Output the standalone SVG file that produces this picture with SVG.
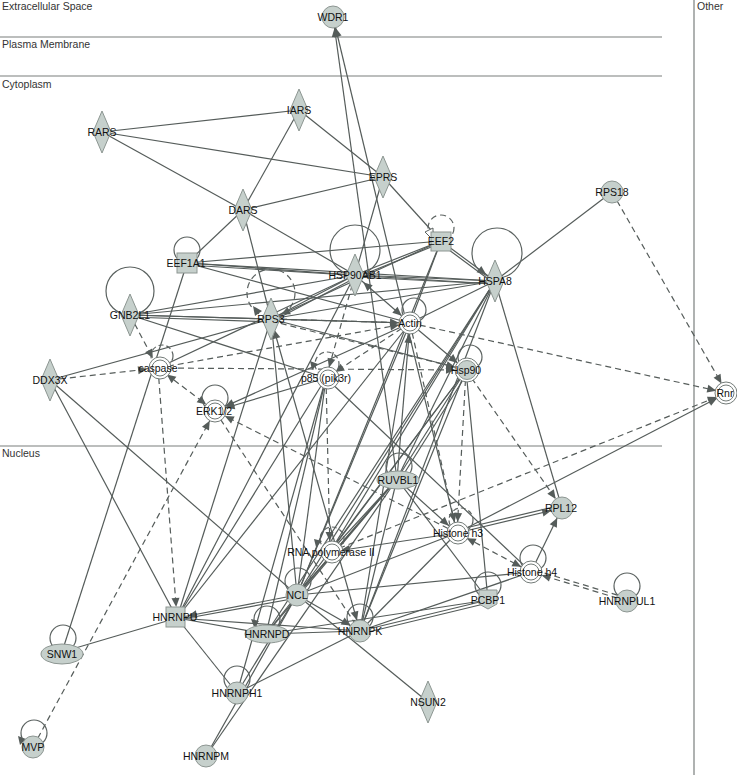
<svg xmlns="http://www.w3.org/2000/svg" width="737" height="775" viewBox="0 0 737 775">
<style>
.bg{fill:#ffffff}
.cmp{stroke:#7a7f7d;stroke-width:1.2;fill:none}
.ct{font-family:"Liberation Sans",Arial,sans-serif;font-size:10.5px;fill:#333}
.e{stroke:#555c5a;stroke-width:1.2;fill:none}
.d{stroke-dasharray:6 4}
.ea{marker-end:url(#ar)}
.eb{marker-end:url(#ar);marker-start:url(#ar2)}
.n{fill:#c6d0cc;stroke:#8d9692;stroke-width:1}
.w{fill:#ffffff;stroke:#737b78;stroke-width:1}
.wi{fill:none;stroke:#737b78;stroke-width:1}
.lp{fill:none;stroke:#5b6260;stroke-width:1.2}
.ah{fill:#555c5a}
.t{font-family:"Liberation Sans",Arial,sans-serif;font-size:10.5px;fill:#111;text-anchor:middle}
</style>
<defs>
<marker id="ar" markerUnits="userSpaceOnUse" markerWidth="9" markerHeight="8" viewBox="0 0 9 8" refX="20" refY="4" orient="auto" style="overflow:visible"><path d="M0,0 L9,4 L0,8 z" fill="#555c5a"/></marker>
<marker id="ar2" markerUnits="userSpaceOnUse" markerWidth="9" markerHeight="8" viewBox="0 0 9 8" refX="20" refY="4" orient="auto-start-reverse" style="overflow:visible"><path d="M0,0 L9,4 L0,8 z" fill="#555c5a"/></marker>
</defs>
<rect class="bg" x="0" y="0" width="737" height="775"/>
<g id="compartments">
<line class="cmp" x1="0" y1="37" x2="662" y2="37"/>
<line class="cmp" x1="0" y1="76" x2="662" y2="76"/>
<line class="cmp" x1="0" y1="446" x2="662" y2="446"/>
<line class="cmp" x1="694" y1="0" x2="694" y2="775"/>
<text class="ct" x="2" y="10">Extracellular Space</text>
<text class="ct" x="2" y="48">Plasma Membrane</text>
<text class="ct" x="2" y="88">Cytoplasm</text>
<text class="ct" x="2" y="457">Nucleus</text>
<text class="ct" x="697" y="10">Other</text>
</g>
<g id="connectors">
<line class="e" x1="102" y1="132" x2="299" y2="110"/>
<line class="e" x1="102" y1="132" x2="383" y2="177"/>
<line class="e" x1="102" y1="132" x2="243" y2="210"/>
<line class="e" x1="299" y1="110" x2="243" y2="210"/>
<line class="e" x1="299" y1="110" x2="383" y2="177"/>
<line class="e" x1="383" y1="177" x2="243" y2="210"/>
<line class="e" x1="383" y1="177" x2="441" y2="241"/>
<line class="e" x1="383" y1="177" x2="355" y2="275"/>
<line class="e" x1="243" y1="210" x2="187" y2="263"/>
<line class="e" x1="243" y1="210" x2="355" y2="275"/>
<line class="e" x1="243" y1="210" x2="271" y2="319"/>
<line class="e" x1="187" y1="263" x2="441" y2="241"/>
<line class="e" x1="187" y1="263" x2="355" y2="275"/>
<line class="e" x1="187" y1="263" x2="495" y2="281"/>
<line class="e" x1="187" y1="265" x2="495" y2="284"/>
<line class="e" x1="187" y1="263" x2="410" y2="323"/>
<line class="e" x1="187" y1="263" x2="62" y2="652"/>
<line class="e" x1="441" y1="241" x2="355" y2="275"/>
<line class="e" x1="441" y1="243" x2="355" y2="278"/>
<line class="e ea" x1="441" y1="241" x2="495" y2="281"/>
<line class="e" x1="441" y1="244" x2="495" y2="284"/>
<line class="e" x1="441" y1="241" x2="410" y2="323"/>
<line class="e ea" x1="441" y1="241" x2="271" y2="319"/>
<line class="e" x1="441" y1="241" x2="297" y2="595"/>
<line class="e" x1="355" y1="275" x2="495" y2="281"/>
<line class="e" x1="355" y1="277" x2="495" y2="284"/>
<line class="e eb" x1="355" y1="275" x2="410" y2="323"/>
<line class="e" x1="355" y1="275" x2="271" y2="319"/>
<line class="e" x1="355" y1="278" x2="271" y2="322"/>
<line class="e" x1="355" y1="275" x2="130" y2="315"/>
<line class="e" x1="355" y1="275" x2="158" y2="368"/>
<line class="e" x1="355" y1="275" x2="177" y2="618"/>
<line class="e" x1="495" y1="281" x2="130" y2="315"/>
<line class="e" x1="495" y1="281" x2="271" y2="319"/>
<line class="e" x1="495" y1="281" x2="410" y2="323"/>
<line class="e" x1="495" y1="281" x2="612" y2="192"/>
<line class="e" x1="495" y1="281" x2="397" y2="479"/>
<line class="e" x1="495" y1="281" x2="297" y2="595"/>
<line class="e" x1="495" y1="281" x2="360" y2="631"/>
<line class="e" x1="495" y1="281" x2="330" y2="552"/>
<line class="e" x1="495" y1="281" x2="562" y2="508"/>
<line class="e" x1="495" y1="281" x2="266" y2="634"/>
<line class="e" x1="130" y1="315" x2="271" y2="319"/>
<line class="e" x1="130" y1="317" x2="271" y2="322"/>
<line class="e" x1="130" y1="315" x2="326" y2="378"/>
<line class="e" x1="130" y1="315" x2="410" y2="323"/>
<line class="e" x1="271" y1="319" x2="177" y2="618"/>
<line class="e eb" x1="360" y1="631" x2="271" y2="319"/>
<line class="e" x1="271" y1="319" x2="297" y2="595"/>
<line class="e" x1="271" y1="319" x2="410" y2="323"/>
<line class="e" x1="271" y1="319" x2="466" y2="370"/>
<line class="e" x1="50" y1="380" x2="271" y2="319"/>
<line class="e" x1="50" y1="380" x2="177" y2="618"/>
<line class="e" x1="50" y1="380" x2="297" y2="595"/>
<line class="e ea" x1="410" y1="323" x2="466" y2="370"/>
<line class="e ea" x1="397" y1="479" x2="410" y2="323"/>
<line class="e" x1="410" y1="323" x2="297" y2="595"/>
<line class="e" x1="410" y1="323" x2="177" y2="618"/>
<line class="e" x1="410" y1="323" x2="360" y2="631"/>
<line class="e ea" x1="410" y1="323" x2="215" y2="411"/>
<line class="e ea" x1="326" y1="378" x2="215" y2="411"/>
<line class="e" x1="326" y1="378" x2="177" y2="618"/>
<line class="e" x1="326" y1="378" x2="266" y2="634"/>
<line class="e" x1="326" y1="378" x2="297" y2="595"/>
<line class="e" x1="326" y1="378" x2="531" y2="572"/>
<line class="e" x1="326" y1="378" x2="237" y2="693"/>
<line class="e" x1="466" y1="370" x2="397" y2="479"/>
<line class="e" x1="468" y1="372" x2="400" y2="480"/>
<line class="e" x1="466" y1="370" x2="297" y2="595"/>
<line class="e" x1="466" y1="370" x2="330" y2="552"/>
<line class="e" x1="466" y1="370" x2="360" y2="631"/>
<line class="e" x1="466" y1="370" x2="488" y2="600"/>
<line class="e ea" x1="397" y1="479" x2="457" y2="533"/>
<line class="e" x1="397" y1="479" x2="488" y2="600"/>
<line class="e" x1="397" y1="479" x2="297" y2="595"/>
<line class="e" x1="395" y1="481" x2="295" y2="597"/>
<line class="e" x1="397" y1="479" x2="330" y2="552"/>
<line class="e" x1="397" y1="479" x2="360" y2="631"/>
<line class="e" x1="397" y1="479" x2="266" y2="634"/>
<line class="e ea" x1="397" y1="479" x2="333" y2="17"/>
<line class="e ea" x1="457" y1="533" x2="333" y2="17"/>
<line class="e ea" x1="457" y1="533" x2="562" y2="508"/>
<line class="e" x1="457" y1="530" x2="562" y2="505"/>
<line class="e ea" x1="457" y1="533" x2="330" y2="552"/>
<line class="e" x1="457" y1="533" x2="297" y2="595"/>
<line class="e" x1="457" y1="533" x2="360" y2="631"/>
<line class="e ea" x1="457" y1="533" x2="727" y2="393"/>
<line class="e ea" x1="531" y1="572" x2="562" y2="508"/>
<line class="e" x1="531" y1="572" x2="297" y2="595"/>
<line class="e" x1="531" y1="572" x2="360" y2="631"/>
<line class="e" x1="488" y1="600" x2="360" y2="631"/>
<line class="e" x1="488" y1="603" x2="360" y2="634"/>
<line class="e" x1="488" y1="600" x2="266" y2="634"/>
<line class="e ea" x1="297" y1="595" x2="177" y2="618"/>
<line class="e" x1="297" y1="598" x2="177" y2="620"/>
<line class="e ea" x1="297" y1="595" x2="360" y2="631"/>
<line class="e" x1="297" y1="595" x2="428" y2="702"/>
<line class="e" x1="297" y1="595" x2="237" y2="693"/>
<line class="e" x1="297" y1="595" x2="266" y2="634"/>
<line class="e" x1="177" y1="618" x2="266" y2="634"/>
<line class="e ea" x1="360" y1="631" x2="266" y2="634"/>
<line class="e" x1="177" y1="618" x2="360" y2="631"/>
<line class="e" x1="177" y1="618" x2="62" y2="652"/>
<line class="e" x1="177" y1="618" x2="237" y2="693"/>
<line class="e" x1="360" y1="631" x2="237" y2="693"/>
<line class="e" x1="206" y1="756" x2="297" y2="595"/>
<line class="e" x1="206" y1="756" x2="397" y2="479"/>
<line class="e d ea" x1="130" y1="315" x2="158" y2="368"/>
<line class="e d ea" x1="50" y1="380" x2="158" y2="368"/>
<line class="e d eb" x1="158" y1="368" x2="215" y2="411"/>
<line class="e d ea" x1="158" y1="368" x2="177" y2="618"/>
<line class="e d ea" x1="158" y1="368" x2="466" y2="370"/>
<line class="e d ea" x1="158" y1="368" x2="410" y2="323"/>
<line class="e d ea" x1="271" y1="319" x2="410" y2="323"/>
<line class="e d ea" x1="271" y1="321" x2="466" y2="370"/>
<line class="e d ea" x1="410" y1="323" x2="727" y2="393"/>
<line class="e d ea" x1="410" y1="323" x2="326" y2="378"/>
<line class="e d ea" x1="410" y1="323" x2="457" y2="533"/>
<line class="e d ea" x1="466" y1="370" x2="457" y2="533"/>
<line class="e d ea" x1="466" y1="370" x2="562" y2="508"/>
<line class="e d ea" x1="457" y1="533" x2="215" y2="411"/>
<line class="e d" x1="215" y1="411" x2="360" y2="631"/>
<line class="e d ea" x1="33" y1="747" x2="215" y2="411"/>
<line class="e d ea" x1="330" y1="552" x2="727" y2="393"/>
<line class="e d ea" x1="612" y1="192" x2="727" y2="393"/>
<line class="e d eb" x1="457" y1="533" x2="531" y2="572"/>
<line class="e d ea" x1="627" y1="601" x2="531" y2="572"/>
<line class="e d" x1="627" y1="598" x2="531" y2="569"/>
<line class="e d ea" x1="326" y1="378" x2="330" y2="552"/>
<line class="e d ea" x1="355" y1="275" x2="326" y2="378"/>
</g>
<g id="loops">
<circle class="lp" cx="130" cy="291" r="24"/>
<circle class="lp" cx="187" cy="250" r="13"/>
<circle class="lp" cx="441" cy="228" r="13" stroke-dasharray="6 4"/>
<polygon points="425,232 433,228 433,240" fill="#fff" stroke="#5b6260"/>
<circle class="lp" cx="355" cy="250" r="25"/>
<circle class="lp" cx="497" cy="253" r="25"/>
<circle class="lp" cx="271" cy="293" r="24" stroke-dasharray="6 4"/>
<polygon class="ah" points="253,306 262,311 255,316"/>
<circle class="lp" cx="414" cy="310" r="12"/>
<circle class="lp" cx="162" cy="356" r="11" stroke-dasharray="5 3"/>
<circle class="lp" cx="327" cy="364" r="12" stroke-dasharray="5 3"/>
<polygon class="ah" points="310,361 318,364 312,370"/>
<circle class="lp" cx="470" cy="357" r="12"/>
<circle class="lp" cx="215" cy="398" r="13"/>
<circle class="lp" cx="399" cy="466" r="13"/>
<circle class="lp" cx="461" cy="520" r="12" stroke-dasharray="5 3"/>
<circle class="lp" cx="332" cy="539" r="12" stroke-dasharray="5 3"/>
<polygon class="ah" points="314,539 322,541 316,547"/>
<circle class="lp" cx="533" cy="558" r="13"/>
<circle class="lp" cx="488" cy="585" r="13"/>
<circle class="lp" cx="627" cy="586" r="13"/>
<circle class="lp" cx="298" cy="581" r="13"/>
<circle class="lp" cx="267" cy="619" r="13"/>
<polygon class="ah" points="251,619 259,621 254,627"/>
<circle class="lp" cx="360" cy="617" r="13"/>
<circle class="lp" cx="63" cy="638" r="13"/>
<circle class="lp" cx="237" cy="679" r="13"/>
<circle class="lp" cx="34" cy="733" r="13"/>
<polygon class="ah" points="18,736 26,739 20,745"/>
</g>
<g id="WDR1"><circle class="n" cx="333" cy="17" r="11"/><text class="t" x="333" y="21">WDR1</text></g>
<g id="RARS"><polygon class="n" points="102,111 111,132 102,153 93,132"/><text class="t" x="102" y="136">RARS</text></g>
<g id="IARS"><polygon class="n" points="299,89 308,110 299,131 290,110"/><text class="t" x="299" y="114">IARS</text></g>
<g id="EPRS"><polygon class="n" points="383,156 392,177 383,198 374,177"/><text class="t" x="383" y="181">EPRS</text></g>
<g id="DARS"><polygon class="n" points="243,189 252,210 243,231 234,210"/><text class="t" x="243" y="214">DARS</text></g>
<g id="EEF1A1"><rect class="n" x="177" y="253" width="20" height="20"/><text class="t" x="186" y="267">EEF1A1</text></g>
<g id="EEF2"><rect class="n" x="431" y="232" width="20" height="19"/><text class="t" x="441" y="245">EEF2</text></g>
<g id="RPS18"><circle class="n" cx="612" cy="192" r="11"/><text class="t" x="612" y="196">RPS18</text></g>
<g id="HSP90AB1"><polygon class="n" points="355,254 364,275 355,296 346,275"/><text class="t" x="355" y="279">HSP90AB1</text></g>
<g id="HSPA8"><polygon class="n" points="495,260 504,281 495,302 486,281"/><text class="t" x="495" y="285">HSPA8</text></g>
<g id="GNB2L1"><polygon class="n" points="130,294 139,315 130,336 121,315"/><text class="t" x="130" y="319">GNB2L1</text></g>
<g id="RPS3"><polygon class="n" points="271,298 280,319 271,340 262,319"/><text class="t" x="271" y="323">RPS3</text></g>
<g id="Actin"><circle class="w" cx="410" cy="323" r="11"/><circle class="wi" cx="410" cy="323" r="8"/><text class="t" x="410" y="327">Actin</text></g>
<g id="caspase"><circle class="w" cx="160" cy="368" r="11"/><circle class="wi" cx="160" cy="368" r="8"/><text class="t" x="158" y="372">caspase</text></g>
<g id="DDX3X"><polygon class="n" points="50,359 59,380 50,401 41,380"/><text class="t" x="50" y="384">DDX3X</text></g>
<g id="p85"><circle class="w" cx="328" cy="378" r="11"/><circle class="wi" cx="328" cy="378" r="8"/><text class="t" x="326" y="382">p85 (pik3r)</text></g>
<g id="Hsp90"><circle class="w" cx="467" cy="370" r="12"/><circle class="n" cx="467" cy="370" r="9.5"/><text class="t" x="466" y="374">Hsp90</text></g>
<g id="ERK12"><circle class="w" cx="215" cy="411" r="11"/><circle class="wi" cx="215" cy="411" r="8"/><text class="t" x="214" y="415">ERK1/2</text></g>
<g id="Rnr"><circle class="w" cx="726" cy="393" r="11"/><circle class="wi" cx="726" cy="393" r="8"/><text class="t" x="725" y="397">Rnr</text></g>
<g id="RUVBL1"><ellipse class="n" cx="398" cy="480" rx="21" ry="9"/><text class="t" x="398" y="484">RUVBL1</text></g>
<g id="RPL12"><circle class="n" cx="562" cy="508" r="11"/><text class="t" x="561" y="512">RPL12</text></g>
<g id="HistoneH3"><circle class="w" cx="458" cy="533" r="11"/><circle class="wi" cx="458" cy="533" r="8"/><text class="t" x="458" y="537">Histone h3</text></g>
<g id="RNAPolII"><circle class="w" cx="332" cy="552" r="11"/><circle class="wi" cx="332" cy="552" r="8"/><text class="t" x="331" y="556">RNA polymerase II</text></g>
<g id="HistoneH4"><circle class="w" cx="531" cy="572" r="11"/><circle class="wi" cx="531" cy="572" r="8"/><text class="t" x="532" y="576">Histone h4</text></g>
<g id="NCL"><circle class="n" cx="297" cy="595" r="11"/><text class="t" x="297" y="599">NCL</text></g>
<g id="PCBP1"><polygon class="n" points="479,590 497,590 497,604 488,609 479,604"/><text class="t" x="488" y="604">PCBP1</text></g>
<g id="HNRNPUL1"><circle class="n" cx="627" cy="601" r="11"/><text class="t" x="627" y="605">HNRNPUL1</text></g>
<g id="HNRNPU"><rect class="n" x="166" y="607" width="19" height="20"/><text class="t" x="175" y="621">HNRNPU</text></g>
<g id="HNRNPD"><ellipse class="n" cx="267" cy="634" rx="22" ry="9"/><text class="t" x="267" y="638">HNRNPD</text></g>
<g id="HNRNPK"><circle class="n" cx="360" cy="631" r="11"/><text class="t" x="360" y="635">HNRNPK</text></g>
<g id="SNW1"><ellipse class="n" cx="62" cy="654" rx="21" ry="10"/><text class="t" x="62" y="658">SNW1</text></g>
<g id="HNRNPH1"><circle class="n" cx="237" cy="693" r="11"/><text class="t" x="237" y="697">HNRNPH1</text></g>
<g id="NSUN2"><polygon class="n" points="428,681 437,702 428,723 419,702"/><text class="t" x="428" y="706">NSUN2</text></g>
<g id="MVP"><circle class="n" cx="33" cy="747" r="11"/><text class="t" x="33" y="751">MVP</text></g>
<g id="HNRNPM"><circle class="n" cx="206" cy="756" r="11"/><text class="t" x="206" y="760">HNRNPM</text></g>
</svg>
